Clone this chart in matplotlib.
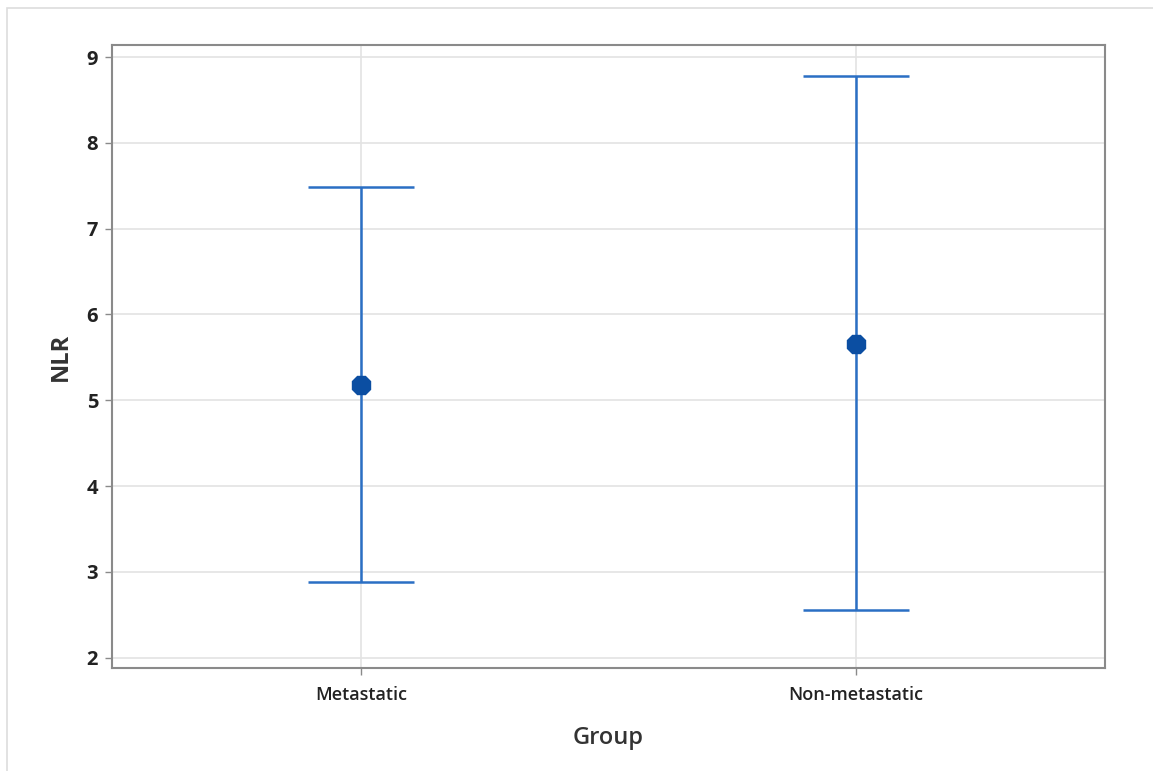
import matplotlib
matplotlib.use("Agg")
import matplotlib.pyplot as plt
from matplotlib.patches import Rectangle

groups = ["Metastatic", "Non-metastatic"]
means = [5.18, 5.65]
lower = [2.885, 2.56]
upper = [7.49, 8.78]
yticks = [2, 3, 4, 5, 6, 7, 8, 9]

plt.rcParams['font.family'] = ['Open Sans', 'DejaVu Sans']

W, H = 1153, 771
fig = plt.figure(figsize=(W / 100, H / 100), dpi=100)
fig.patch.set_facecolor('white')
ax = fig.add_axes([112 / W, 1 - 668 / H, (1105 - 112) / W, (668 - 45) / H])

# outer frame
fig.add_artist(Rectangle((6.5 / W, -0.01), 1.1, 1 - 8 / H + 0.01, transform=fig.transFigure,
                         fill=False, edgecolor='#dddddd', linewidth=1.2))

x = list(range(len(groups)))
yerr = [[m - l for m, l in zip(means, lower)], [u - m for m, u in zip(means, upper)]]
ax.errorbar(x, means, yerr=yerr, fmt='none', ecolor='#2a6fc4', elinewidth=1.8,
            capsize=38, capthick=1.8, zorder=3)
ax.plot(x, means, linestyle='none', marker='8', markersize=14, color='#0b4ea2',
        markeredgecolor='#0b4ea2', zorder=4)

ax.set_xlim(-0.503, 1.503)
ax.set_ylim(1.88, 9.14)
ax.set_xticks(x)
ax.set_xticklabels(groups, fontsize=13, color='#222222', fontweight='semibold')
ax.set_yticks(yticks)
ax.set_yticklabels([str(t) for t in yticks], fontsize=14.5, color='#222222', fontweight='bold')
ax.grid(True, color='#e3e3e3', linewidth=1.2, zorder=0)
ax.set_axisbelow(True)
for s in ax.spines.values():
    s.set_color('#8a8a8a')
    s.set_linewidth(1.5)
ax.tick_params(axis='both', color='#8a8a8a', length=5, width=1)
ax.tick_params(axis='x', pad=8)
ax.tick_params(axis='y', pad=5)

ax.set_xlabel("Group", fontsize=17, color='#333333', labelpad=16, fontweight='semibold')
ax.set_ylabel("NLR", fontsize=17, color='#333333', labelpad=10, fontweight='bold')

fig.savefig("out.png", dpi=100, facecolor='white')
